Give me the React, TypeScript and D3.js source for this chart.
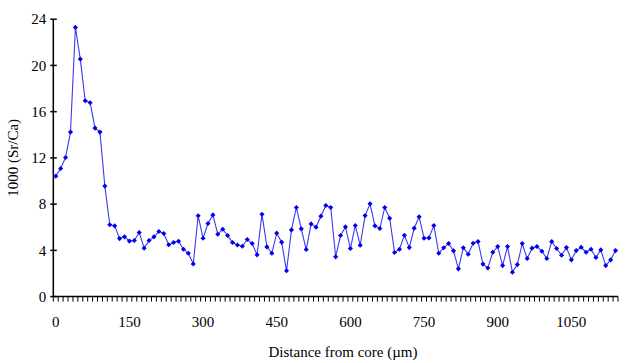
import React, { useEffect, useRef } from 'react';
import * as d3 from 'd3';

// distance from core, 10 µm steps
const distances: number[] = d3.range(0, 1150, 10);

// 1000 (Sr/Ca) at each distance
const srCa: number[] = [
  10.42, 11.08, 12.04, 14.23, 23.29, 20.55, 16.94, 16.77, 14.58, 14.23,
  9.56, 6.21, 6.12, 5.02, 5.17, 4.8, 4.85, 5.54, 4.19, 4.85,
  5.17, 5.63, 5.46, 4.48, 4.68, 4.79, 4.1, 3.75, 2.83, 6.99,
  5.05, 6.32, 7.07, 5.4, 5.83, 5.28, 4.68, 4.46, 4.36, 4.94,
  4.59, 3.61, 7.13, 4.3, 3.75, 5.49, 4.71, 2.23, 5.77, 7.71,
  5.86, 4.07, 6.29, 6.01, 6.96, 7.88, 7.71, 3.44, 5.28, 6.03,
  4.16, 6.15, 4.45, 7.01, 8.03, 6.12, 5.89, 7.71, 6.78, 3.81,
  4.1, 5.31, 4.24, 5.92, 6.9, 5.05, 5.08, 6.15, 3.75, 4.22,
  4.59, 3.96, 2.4, 4.22, 3.67, 4.62, 4.76, 2.81, 2.48, 3.84,
  4.33, 2.68, 4.33, 2.11, 2.77, 4.59, 3.29, 4.19, 4.33, 3.93,
  3.29, 4.76, 4.16, 3.58, 4.24, 3.18, 3.98, 4.27, 3.84, 4.1,
  3.38, 4.04, 2.68, 3.18, 3.98,
];

const xLabels: number[] = [0, 150, 300, 450, 600, 750, 900, 1050];
const yTicks: number[] = [0, 4, 8, 12, 16, 20, 24];

const W = 632;
const H = 363;
const FONT = '"Liberation Serif", "Times New Roman", serif';
const FS = 15;

const SrCaProfile = () => {
  const svgRef = useRef<SVGSVGElement>(null);

  useEffect(() => {
    const svg = d3.select(svgRef.current);
    svg.selectAll('*').remove();

    const left = 53.3;
    const right = 618;
    const top = 19.2;
    const bottom = 296.6;

    const x = d3.scaleBand<number>()
      .domain(distances)
      .range([left, right])
      .padding(0);

    const y = d3.scaleLinear()
      .domain([0, 24])
      .range([bottom, top]);

    const cx = (d: number) => (x(d) as number) + x.bandwidth() / 2;

    const points = distances.map((d, i) => ({ d, v: srCa[i] }));

    // series
    const line = d3.line<{ d: number; v: number }>()
      .x(p => cx(p.d))
      .y(p => y(p.v));

    svg.append('path')
      .datum(points)
      .attr('fill', 'none')
      .attr('stroke', '#3a3af0')
      .attr('stroke-width', 1.1)
      .attr('d', line);

    // small diamond markers: a square turned by 45°
    const marker = d3.symbol().type(d3.symbolSquare).size(13);
    svg.append('g')
      .selectAll('path')
      .data(points)
      .enter().append('path')
      .attr('transform', p => `translate(${cx(p.d)},${y(p.v)}) rotate(45)`)
      .attr('d', marker)
      .attr('fill', '#0000ee');

    // y axis
    const yAxis = svg.append('g').attr('stroke', '#000');
    yAxis.append('line')
      .attr('x1', left).attr('x2', left)
      .attr('y1', top).attr('y2', bottom)
      .attr('stroke-width', 1.5);
    yAxis.selectAll('line.tick')
      .data(yTicks)
      .enter().append('line')
      .attr('class', 'tick')
      .attr('x1', left - 3).attr('x2', left + 3.5)
      .attr('y1', d => y(d)).attr('y2', d => y(d))
      .attr('stroke-width', 1.5);

    svg.append('g')
      .selectAll('text')
      .data(yTicks)
      .enter().append('text')
      .attr('x', left - 7)
      .attr('y', d => y(d))
      .attr('dy', '0.35em')
      .attr('text-anchor', 'end')
      .attr('font-family', FONT)
      .attr('font-size', FS)
      .text(d => d);

    // x axis with a tick at every category boundary
    const xAxis = svg.append('g').attr('stroke', '#000');
    xAxis.append('line')
      .attr('x1', left).attr('x2', right)
      .attr('y1', bottom).attr('y2', bottom)
      .attr('stroke-width', 1.5);
    const bounds = distances.map(d => x(d) as number).concat([right]);
    xAxis.selectAll('line.tick')
      .data(bounds)
      .enter().append('line')
      .attr('class', 'tick')
      .attr('x1', d => d).attr('x2', d => d)
      .attr('y1', bottom).attr('y2', bottom + 5)
      .attr('stroke-width', 1);

    svg.append('g')
      .selectAll('text')
      .data(xLabels)
      .enter().append('text')
      .attr('x', d => cx(d))
      .attr('y', 322)
      .attr('dy', '0.35em')
      .attr('text-anchor', 'middle')
      .attr('font-family', FONT)
      .attr('font-size', FS)
      .text(d => d);

    // axis titles
    svg.append('text')
      .attr('x', 343)
      .attr('y', 352)
      .attr('dy', '0.35em')
      .attr('text-anchor', 'middle')
      .attr('font-family', FONT)
      .attr('font-size', FS)
      .text('Distance from core (\u00b5m)');

    svg.append('text')
      .attr('transform', `translate(13,${(top + bottom) / 2}) rotate(-90)`)
      .attr('dy', '0.35em')
      .attr('text-anchor', 'middle')
      .attr('font-family', FONT)
      .attr('font-size', FS)
      .text('1000 (Sr/Ca)');
  }, []);

  return (
    <svg
      ref={svgRef}
      width={W}
      height={H}
      style={{ position: 'absolute', left: 0, top: 0, background: '#fff' }}
    />
  );
};

export default function App() {
  return <SrCaProfile />;
}
